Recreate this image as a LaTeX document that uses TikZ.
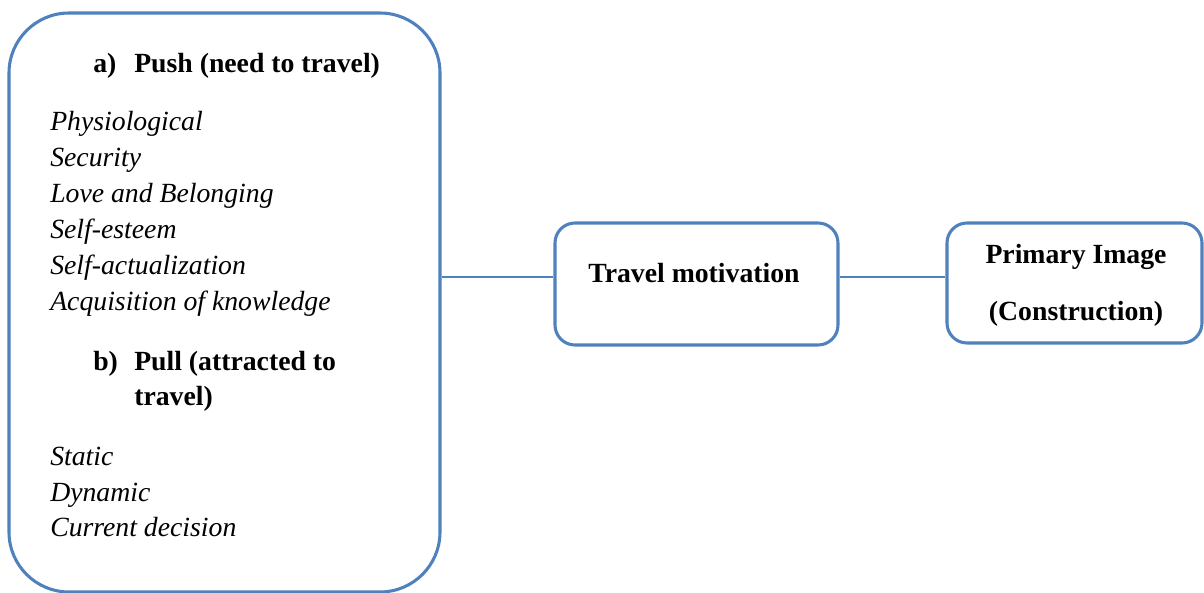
\documentclass[tikz,border=0pt]{standalone}
\usepackage{fontspec}
\setmainfont{Liberation Serif}
\definecolor{boxblue}{RGB}{79,129,189}
\begin{document}
\begin{tikzpicture}[x=0.75pt,y=-0.75pt,
  box/.style={draw=boxblue,line width=2.3pt,fill=white,inner sep=0pt},
  conn/.style={draw=boxblue,line width=1.1pt},
  txt/.style={inner sep=0pt,anchor=base west,font=\fontsize{20.8}{25}\selectfont},
  itxt/.style={txt,font=\fontsize{20.8}{25}\selectfont\itshape},
  btxt/.style={txt,font=\fontsize{20.8}{25}\selectfont\bfseries},
  ctxt/.style={inner sep=0pt,anchor=base,font=\fontsize{20.8}{25}\selectfont\bfseries}]
\useasboundingbox (0,0) rectangle (1204,593);
\node[box,rounded corners=45pt,minimum width=323.25pt,minimum height=434.25pt] (left) at (224.5,302.5) {};
\node[box,rounded corners=15pt,minimum width=212.25pt,minimum height=91.5pt] (mid) at (696.5,284) {};
\node[box,rounded corners=15pt,minimum width=191.25pt,minimum height=90pt] (right) at (1074.5,283) {};
\coordinate (cy) at (0,277);
\draw[conn] (left.east |- cy) -- (mid.west |- cy);
\draw[conn] (mid.east |- cy) -- (right.west |- cy);
% left box text
\node[btxt] (la) at (93,72) {a)};
\node[btxt] (push) at (134,72) {Push (need to travel)};
\node[itxt] (p1) at (50,130) {Physiological};
\node[itxt] (p2) at (50,166) {Security};
\node[itxt] (p3) at (50,202) {Love and Belonging};
\node[itxt] (p4) at (50,238) {Self-esteem};
\node[itxt] (p5) at (50,274) {Self-actualization};
\node[itxt] (p6) at (50,310) {Acquisition of knowledge};
\node[btxt] (lb) at (93,370) {b)};
\node[btxt] (pull1) at (134,370) {Pull (attracted to};
\node[btxt] (pull2) at (134,405) {travel)};
\node[itxt] (q1) at (50,465) {Static};
\node[itxt] (q2) at (50,501) {Dynamic};
\node[itxt] (q3) at (50,536) {Current decision};
% middle and right
\node[ctxt] (tm) at (694,282) {Travel motivation};
\node[ctxt] (pi1) at (1076,263) {Primary Image};
\node[ctxt] (pi2) at (1076,320) {(Construction)};
\end{tikzpicture}
\end{document}
